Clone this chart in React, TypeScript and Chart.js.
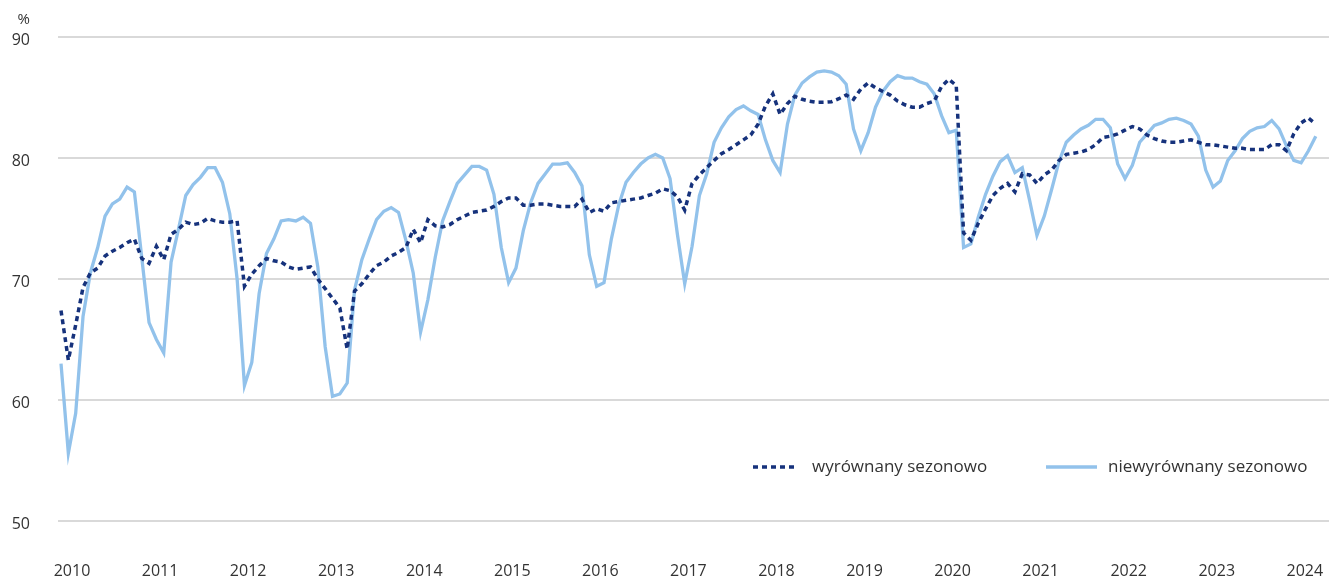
import React, { useEffect, useRef } from "react";
import { Chart, registerables } from "chart.js";

Chart.register(...registerables);

const yearLabels = ["2010","2011","2012","2013","2014","2015","2016","2017","2018","2019","2020","2021","2022","2023","2024"];

const seriesNames = ["wyrównany sezonowo", "niewyrównany sezonowo"];

// monthly, Jan 2010 – Apr 2024
const seasonallyAdjusted = [
  67.4,63.3,66.2,69.3,70.5,70.9,71.9,72.3,72.6,73.0,73.3,71.7,
  71.3,72.7,71.6,73.7,74.1,74.7,74.5,74.6,75.0,74.8,74.7,74.7,
  74.8,69.4,70.4,71.1,71.7,71.5,71.4,71.0,70.8,70.9,71.0,70.0,
  69.2,68.4,67.6,64.2,69.0,69.6,70.4,71.1,71.4,71.9,72.2,72.6,
  74.1,73.0,74.9,74.4,74.3,74.5,74.9,75.2,75.5,75.6,75.7,76.0,
  76.4,76.7,76.7,76.1,76.1,76.2,76.2,76.1,76.0,76.0,76.0,76.6,
  75.5,75.8,75.6,76.3,76.4,76.5,76.6,76.7,76.9,77.1,77.45,77.3,
  76.8,75.7,77.9,78.6,79.2,79.8,80.35,80.7,81.1,81.5,81.9,82.8,
  84.3,85.3,83.6,84.5,85.1,84.85,84.7,84.6,84.6,84.65,84.9,85.2,
  84.85,85.7,86.2,85.8,85.5,85.2,84.7,84.4,84.2,84.2,84.5,84.7,
  85.9,86.5,86.0,73.8,73.2,74.6,75.8,76.9,77.5,77.9,77.2,78.7,
  78.6,77.9,78.6,79.0,79.8,80.3,80.4,80.5,80.7,81.1,81.7,81.8,
  82.0,82.3,82.6,82.4,81.9,81.6,81.4,81.3,81.3,81.4,81.5,81.3,
  81.1,81.1,81.0,80.9,80.8,80.8,80.7,80.7,80.7,81.1,81.1,80.6,
  82.0,82.9,83.3,82.8
];

const notAdjusted = [
  63.0,55.6,58.9,66.9,70.5,72.6,75.2,76.2,76.6,77.6,77.2,71.8,
  66.4,65.0,63.9,71.4,74.1,76.9,77.8,78.4,79.2,79.2,78.0,75.4,
  70.0,61.2,63.1,68.8,72.1,73.3,74.8,74.9,74.8,75.1,74.6,71.0,
  64.4,60.3,60.5,61.4,69.1,71.6,73.3,74.9,75.6,75.9,75.5,73.2,
  70.5,65.6,68.3,71.8,74.8,76.4,77.9,78.6,79.3,79.3,79.0,77.0,
  72.6,69.7,70.9,74.0,76.3,77.9,78.7,79.5,79.5,79.6,78.8,77.7,
  72.0,69.4,69.7,73.3,76.1,78.0,78.8,79.5,80.0,80.3,80.0,78.3,
  73.7,69.6,72.7,76.9,78.7,81.3,82.5,83.4,84.0,84.3,83.9,83.6,
  81.5,79.8,78.8,82.8,85.2,86.2,86.7,87.1,87.2,87.1,86.8,86.1,
  82.4,80.6,82.1,84.2,85.5,86.3,86.8,86.6,86.6,86.3,86.1,85.3,
  83.5,82.1,82.3,72.6,72.9,75.1,77.0,78.5,79.7,80.2,78.8,79.2,
  76.5,73.6,75.2,77.4,79.7,81.3,81.9,82.4,82.7,83.2,83.2,82.5,
  79.5,78.3,79.4,81.3,82.0,82.7,82.9,83.2,83.3,83.1,82.8,81.8,
  79.0,77.6,78.1,79.8,80.6,81.6,82.2,82.5,82.6,83.1,82.4,81.0,
  79.8,79.6,80.6,81.8
];

const yTicks = [50, 60, 70, 80, 90];

const DARK = "#16327c";
const LIGHT = "#92c2eb";
const TEXT = "#333333";
const FONT = "'Open Sans', 'Noto Sans', sans-serif";

export default function App() {
  const ref = useRef<HTMLCanvasElement | null>(null);

  useEffect(() => {
    document.body.style.margin = "0";
    const canvas = ref.current;
    if (!canvas) return;

    const overlay = {
      id: "overlay",
      afterDraw(chart: any) {
        const ctx = chart.ctx;
        ctx.save();
        ctx.fillStyle = TEXT;
        ctx.font = `15px ${FONT}`;
        ctx.textAlign = "right";
        ctx.textBaseline = "middle";
        ctx.fillText("%", 30, 20);

        const ly = 467;
        ctx.lineWidth = 3.5;
        ctx.strokeStyle = DARK;
        ctx.setLineDash([5, 4]);
        ctx.beginPath();
        ctx.moveTo(753, ly);
        ctx.lineTo(797, ly);
        ctx.stroke();
        ctx.setLineDash([]);
        ctx.strokeStyle = LIGHT;
        ctx.lineWidth = 3.5;
        ctx.beginPath();
        ctx.moveTo(1046, ly);
        ctx.lineTo(1097, ly);
        ctx.stroke();

        ctx.font = `17px ${FONT}`;
        ctx.textAlign = "left";
        ctx.fillStyle = TEXT;
        ctx.fillText(seriesNames[0], 812, ly);
        ctx.fillText(seriesNames[1], 1108, ly);
        ctx.restore();
      },
    };

    const chart = new Chart(canvas, {
      type: "line",
      data: {
        datasets: [
          {
            label: seriesNames[1],
            data: notAdjusted.map((v, i) => ({ x: i, y: v })),
            borderColor: LIGHT,
            borderWidth: 3.3,
            pointRadius: 0,
            tension: 0,
            fill: false,
            order: 2,
          },
          {
            label: seriesNames[0],
            data: seasonallyAdjusted.map((v, i) => ({ x: i, y: v })),
            borderColor: DARK,
            borderWidth: 3.5,
            borderDash: [5, 4],
            pointRadius: 0,
            tension: 0,
            fill: false,
            order: 1,
          },
        ],
      },
      options: {
        responsive: false,
        animation: false,
        devicePixelRatio: 1,
        layout: { padding: { top: 37, left: 0, right: 0, bottom: 0 } },
        plugins: {
          legend: { display: false },
          tooltip: { enabled: false },
        },
        scales: {
          x: {
            type: "linear",
            min: -0.41,
            max: 172.8,
            grid: { display: false, drawTicks: false },
            border: { display: false },
            afterBuildTicks: (scale: any) => {
              scale.ticks = yearLabels.map((_, k) => ({ value: 1.5 + 12 * k }));
            },
            afterFit: (scale: any) => {
              scale.height = 59;
              scale.paddingLeft = 0;
              scale.paddingRight = 0;
            },
            ticks: {
              autoSkip: false,
              maxRotation: 0,
              padding: 41,
              color: TEXT,
              font: { family: FONT, size: 16 },
              callback: (_v: any, i: number) => yearLabels[i],
            },
          },
          y: {
            min: 50,
            max: 90,
            grid: { color: "#d9d9d9", lineWidth: 2, drawTicks: false },
            border: { display: false },
            afterBuildTicks: (scale: any) => {
              scale.ticks = yTicks.map((v) => ({ value: v }));
            },
            afterFit: (scale: any) => {
              scale.width = 58;
              scale.paddingTop = 0;
              scale.paddingBottom = 0;
            },
            ticks: {
              padding: 28,
              labelOffset: 3,
              color: TEXT,
              font: { family: FONT, size: 16 },
              callback: (v: any) => String(v),
            },
          },
        },
      },
      plugins: [overlay],
    });

    return () => chart.destroy();
  }, []);

  return (
    <div style={{ width: 1329, height: 580 }}>
      <canvas ref={ref} width={1329} height={580} style={{ display: "block" }} />
    </div>
  );
}
